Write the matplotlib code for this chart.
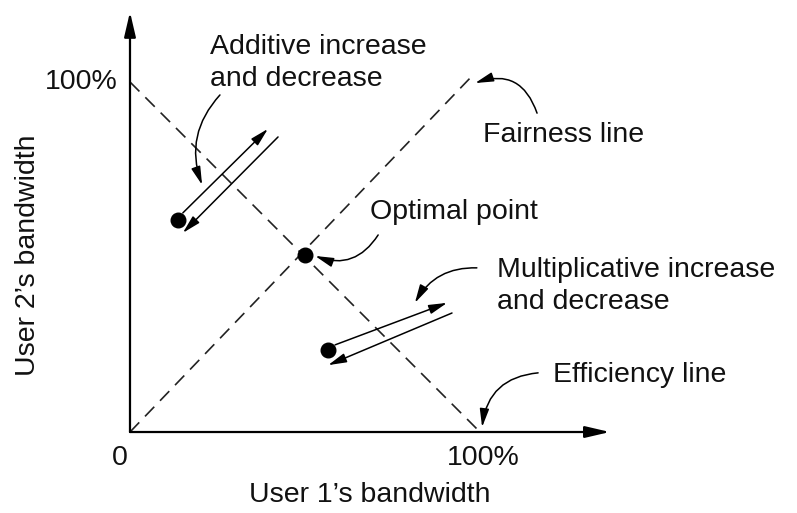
import matplotlib.pyplot as plt

plt.rcParams['font.family'] = ['Liberation Sans', 'DejaVu Sans']

# all positions in percent of each user's bandwidth
fairness_line = ([0, 98], [0, 102])
efficiency_line = ([0, 100], [100, 0])

optimal_point = (50, 50.5)
additive_dot = (13.7, 60.6)
multiplicative_dot = (56.6, 23.4)

# (start, end) of the paired arrows
additive_arrows = [((15.1, 62.6), (39.4, 86.6)), ((42.3, 84.3), (15.1, 56.9))]
multiplicative_arrows = [((58.6, 24.9), (90.6, 36.9)), ((92.0, 34.0), (56.6, 19.1))]

# labels: text, position, curved pointer start, pointer tip, curvature
labels = [
    ("Additive increase\nand decrease", (22.9, 105.3), (25.7, 96.3), (20.6, 70.6), 0.3),
    ("Fairness line", (100.9, 84.9), (116.3, 91.1), (98.6, 99.7), 0.5),
    ("Optimal point", (68.6, 62.9), (70.9, 56.3), (52.9, 50.3), -0.4),
    ("Multiplicative increase\nand decrease", (104.9, 41.7), (99.1, 46.9), (81.4, 36.9), 0.3),
    ("Efficiency line", (120.9, 16.3), (116.6, 16.9), (100.6, 1.4), 0.4),
]

FS = 20.5
TXT = '#111111'

fig = plt.figure(figsize=(7.97, 5.13), dpi=100)
ax = fig.add_axes([0, 0, 1, 1])
ax.set_xlim(-37.14, 190.57)
ax.set_ylim(-23.14, 123.43)
ax.axis('off')

# axes with arrow heads
ax.annotate('', xy=(137.1, 0), xytext=(0, 0),
            arrowprops=dict(arrowstyle='-|>,head_length=1.5,head_width=0.35',
                            color='black', lw=1.6, shrinkA=0, shrinkB=0))
ax.annotate('', xy=(0, 120), xytext=(0, 0),
            arrowprops=dict(arrowstyle='-|>,head_length=1.5,head_width=0.35',
                            color='black', lw=1.6, shrinkA=0, shrinkB=0))

ax.plot(*fairness_line, color='#222222', lw=1.2, dashes=(8, 5))
ax.plot(*efficiency_line, color='#222222', lw=1.2, dashes=(8, 5))

for pt in (optimal_point, additive_dot, multiplicative_dot):
    ax.plot(*pt, 'o', color='black', markersize=10.5)

for start, end in additive_arrows + multiplicative_arrows:
    ax.annotate('', xy=end, xytext=start,
                arrowprops=dict(arrowstyle='-|>,head_length=1.1,head_width=0.28',
                                color='black', lw=1.1, shrinkA=0, shrinkB=0))

for text, pos, start, tip, rad in labels:
    ax.text(*pos, text, fontsize=FS, ha='left', va='center', linespacing=1.3,
            color=TXT)
    ax.annotate('', xy=tip, xytext=start,
                arrowprops=dict(arrowstyle='-|>,head_length=1.1,head_width=0.28',
                                color='black', lw=1.1, shrinkA=0, shrinkB=0,
                                connectionstyle='arc3,rad=%s' % rad))

ax.text(-3.4, 100, "100%", fontsize=FS, ha='right', va='center', color=TXT)
ax.text(-2.9, -7.4, "0", fontsize=FS, ha='center', va='center', color=TXT)
ax.text(100.9, -7.4, "100%", fontsize=FS, ha='center', va='center', color=TXT)
ax.text(68.6, -18, "User 1\u2019s bandwidth", fontsize=FS, ha='center', va='center',
        color=TXT)
ax.text(-29.1, 50.6, "User 2\u2019s bandwidth", fontsize=FS, ha='center', va='center',
        rotation=90, color=TXT)

fig.savefig('out.png', dpi=100)
